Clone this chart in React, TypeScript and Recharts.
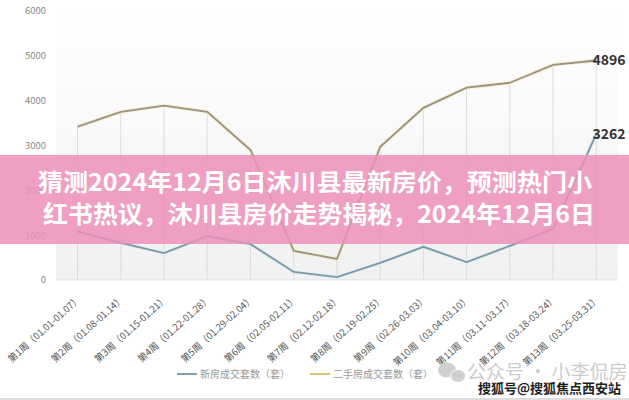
import { ComposedChart, Line, Bar, XAxis, YAxis, CartesianGrid } from "recharts";

const weeks = [
  "第1周（01.01-01.07）",
  "第2周（01.08-01.14）",
  "第3周（01.15-01.21）",
  "第4周（01.22-01.28）",
  "第5周（01.29-02.04）",
  "第6周（02.05-02.11）",
  "第7周（02.12-02.18）",
  "第8周（02.19-02.25）",
  "第9周（02.26-03.03）",
  "第10周（03.04-03.10）",
  "第11周（03.11-03.17）",
  "第12周（03.18-03.24）",
  "第13周（03.25-03.31）",
];
const newHomes = [1080, 830, 600, 980, 800, 180, 65, 380, 740, 400, 760, 1140, 3262];
const resale = [3420, 3750, 3890, 3750, 2900, 650, 470, 2970, 3840, 4290, 4400, 4800, 4896];
const yTicks = [0, 1000, 2000, 3000, 4000, 5000, 6000];

const titleLines = [
  "猜测2024年12月6日沐川县最新房价，预测热门小",
  "红书热议，沐川县房价走势揭秘，2024年12月6日",
];
const legendNames = ["新房成交套数（套）", "二手房成交套数（套）"];

const data = weeks.map((w, i) => ({ week: w, newHomes: newHomes[i], resale: resale[i] }));

const FONT = '"Noto Sans CJK SC", "Noto Sans", sans-serif';
const BLUE = "#7898a4";
const TAN = "#9c917c";

function WeekTick(props: any) {
  const { x, y, payload } = props;
  return (
    <g transform={`translate(${x + 4},${y + 12})`}>
      <text
        x={0}
        y={0}
        textAnchor="end"
        transform="rotate(-42)"
        fontSize={9.5}
        fontFamily={FONT}
        fill="#555"
      >
        {payload.value}
      </text>
    </g>
  );
}

function endLabel(series: number[]) {
  return (props: any) => {
    const { x, y, index } = props;
    if (index !== series.length - 1) return null;
    return (
      <text
        x={x - 4}
        y={y + 1}
        dominantBaseline="middle"
        fontSize={14}
        fontWeight="bold"
        fontFamily={FONT}
        fill="#333"
      >
        {series[index]}
      </text>
    );
  };
}

export default function App() {
  return (
    <div
      style={{
        position: "absolute",
        left: 0,
        top: 0,
        width: 629,
        height: 400,
        background: "#fff",
        borderBottom: "2px solid #ddd",
        boxSizing: "border-box",
        fontFamily: FONT,
      }}
    >
      <ComposedChart width={629} height={400} data={data} margin={{ top: 11, right: 11, left: 0, bottom: 0 }}>
        <defs>
          <linearGradient id="plotBg" x1="0" y1="0" x2="0" y2="1">
            <stop offset="0%" stopColor="#ffffff" />
            <stop offset="100%" stopColor="#f1f1f1" />
          </linearGradient>
        </defs>
        <CartesianGrid horizontal={false} vertical={false} fill="url(#plotBg)" />
        <XAxis
          dataKey="week"
          interval={0}
          tickLine={false}
          axisLine={{ stroke: "#e2e2e2" }}
          height={120}
          tick={<WeekTick />}
        />
        <YAxis
          domain={[0, 6000]}
          ticks={yTicks}
          width={56}
          tickLine={false}
          axisLine={false}
          tickMargin={4}
          tick={{ fontSize: 9.5, fill: "#888", fontFamily: FONT }}
        />
        <Bar dataKey="resale" barSize={1} fill="#dcdcdc" isAnimationActive={false} />
        <Line dataKey="newHomes" stroke="#e3eef2" strokeWidth={4} dot={false} isAnimationActive={false} />
        <Line dataKey="resale" stroke="#f6efd6" strokeWidth={4} dot={false} isAnimationActive={false} />
        <Line
          dataKey="newHomes"
          stroke={BLUE}
          strokeWidth={1.8}
          dot={false}
          isAnimationActive={false}
          label={endLabel(newHomes)}
        />
        <Line
          dataKey="resale"
          stroke={TAN}
          strokeWidth={1.8}
          dot={false}
          isAnimationActive={false}
          label={endLabel(resale)}
        />
      </ComposedChart>

      <div
        style={{
          position: "absolute",
          top: 366,
          left: 177,
          display: "flex",
          alignItems: "center",
          fontSize: 10,
          color: "#999",
        }}
      >
        <span style={{ display: "inline-block", width: 20, height: 2, background: "#809faa", marginRight: 3 }} />
        <span>{legendNames[0]}</span>
        <span style={{ display: "inline-block", width: 20, height: 2, background: "#d6c27a", marginLeft: 20, marginRight: 3 }} />
        <span>{legendNames[1]}</span>
      </div>

      <svg width={629} height={400} style={{ position: "absolute", left: 0, top: 0, pointerEvents: "none" }}>
        <rect x={0} y={155} width={629} height={89} fill="#ec8fba" fillOpacity={0.85} />
        {titleLines.map((t, i) => (
          <text
            key={i}
            x={i === 0 ? 38 : 43}
            y={i === 0 ? 191 : 223}
            textLength={i === 0 ? 554 : 552}
            lengthAdjust="spacingAndGlyphs"
            fontSize={24}
            fontWeight="bold"
            fontFamily={FONT}
            fill="#fff"
          >
            {t}
          </text>
        ))}
        <g fill="#cfcfcf">
          <ellipse cx={447} cy={370} rx={9} ry={7.5} />
          <ellipse cx={458} cy={376} rx={7.5} ry={6.5} stroke="#fff" strokeWidth={1} />
        </g>
        <text x={467} y={379} fontSize={19} fontFamily={FONT} fill="#cccccc">
          公众号 · 小李侃房
        </text>
        <text
          x={478}
          y={393}
          fontSize={13}
          fontWeight="bold"
          fontFamily={FONT}
          fill="#1e1e1e"
          stroke="#fff"
          strokeWidth={2.5}
          paintOrder="stroke"
        >
          搜狐号@搜狐焦点西安站
        </text>
      </svg>
    </div>
  );
}
